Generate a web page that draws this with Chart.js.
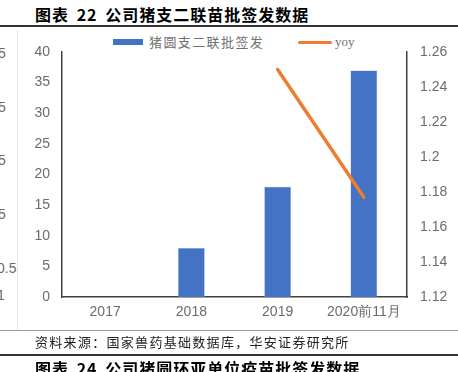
<!DOCTYPE html>
<html><head><meta charset="utf-8">
<script src="https://cdn.jsdelivr.net/npm/chart.js@4"></script>
<style>
html,body{margin:0;padding:0;background:#fff;}
body{width:458px;height:372px;position:relative;overflow:hidden;font-family:"Noto Sans CJK SC",sans-serif;}
.t{position:absolute;white-space:nowrap;}
#title{left:35px;top:3px;font-size:16px;font-weight:bold;color:#000;line-height:22px;letter-spacing:1px;word-spacing:3px;}
#title2{left:35px;top:357px;font-size:16px;font-weight:bold;color:#000;line-height:22px;letter-spacing:1px;word-spacing:3px;}
#src{left:35px;top:333px;font-size:13px;color:#222;line-height:18px;letter-spacing:1.3px;}
.hl{position:absolute;left:0;width:458px;}
.stub{position:absolute;font-family:"Liberation Sans",sans-serif;font-size:14px;color:#6b6b6b;line-height:16px;}
#leg1box{position:absolute;left:113px;top:39px;width:30px;height:6px;background:#4472C4;}
#leg1{left:149px;top:33px;font-size:13px;color:#707070;line-height:18px;letter-spacing:1.4px;}
#leg2line{position:absolute;left:298px;top:41px;width:34px;height:3px;background:#ED7D31;border-radius:2px;}
#leg2{left:335px;top:33px;font-size:13px;color:#707070;line-height:18px;font-family:"Liberation Serif",serif;}
canvas{position:absolute;left:0;top:0;}
</style></head>
<body>
<div id="title" class="t">图表 22 公司猪支二联苗批签发数据</div>
<div class="hl" style="top:25px;height:2px;background:#333;"></div>
<div style="position:absolute;left:17px;top:30px;width:1px;height:300px;background:#e4e4e4;"></div>
<div class="stub" style="left:-2px;top:45px;">5</div>
<div class="stub" style="left:-2px;top:99px;">5</div>
<div class="stub" style="left:-2px;top:152px;">5</div>
<div class="stub" style="left:-2px;top:206px;">5</div>
<div class="stub" style="left:-3px;top:260px;">0.5</div>
<div class="stub" style="left:-3px;top:287px;">1</div>
<div id="leg1box"></div><div id="leg1" class="t">猪圆支二联批签发</div>
<div id="leg2line"></div><div id="leg2" class="t">yoy</div>
<canvas id="c" width="458" height="372"></canvas>
<div class="hl" style="top:330px;height:1px;background:#999;"></div>
<div id="src" class="t">资料来源：国家兽药基础数据库，华安证券研究所</div>
<div class="hl" style="top:354px;height:2px;background:#333;"></div>
<div id="title2" class="t">图表 24 公司猪圆环亚单位疫苗批签发数据</div>
<script>
const categories = ["2017", "2018", "2019", "2020前11月"];
const batchCounts = [0, 8, 18, 37];
const yoyValues = [null, null, 1.25, 1.177];
const leftTicks = [0, 5, 10, 15, 20, 25, 30, 35, 40];
const rightTicks = [1.12, 1.14, 1.16, 1.18, 1.2, 1.22, 1.24, 1.26];

const tickFont = {family: "Liberation Sans", size: 14};
const tickColor = "#6b6b6b";

new Chart(document.getElementById("c"), {
  data: {
    labels: categories,
    datasets: [
      {type: "line", label: "yoy", data: yoyValues, yAxisID: "y1",
       borderColor: "#ED7D31", borderWidth: 3.5, pointRadius: 0, fill: false, order: 0, borderCapStyle: "round"},
      {type: "bar", label: "猪圆支二联批签发", data: batchCounts, yAxisID: "y",
       backgroundColor: "#4472C4", borderColor: "#8EA9DB", borderWidth: 0.5,
       barPercentage: 0.31, categoryPercentage: 1, order: 1}
    ]
  },
  options: {
    responsive: false, animation: false,
    layout: {padding: {top: 52, bottom: 45, left: 0, right: 0}},
    plugins: {legend: {display: false}, tooltip: {enabled: false}},
    scales: {
      x: {
        grid: {display: false, drawTicks: false},
        border: {display: true, color: "#404040", width: 1.5},
        ticks: {font: tickFont, color: tickColor, padding: 7, maxRotation: 0},
        afterFit: s => { s.height = 30; }
      },
      y: {
        position: "left", min: 0, max: 40,
        grid: {display: false, drawTicks: false},
        border: {display: true, color: "#404040", width: 1.5},
        afterBuildTicks: s => { s.ticks = leftTicks.map(v => ({value: v})); },
        ticks: {font: tickFont, color: tickColor, padding: 12},
        afterFit: s => { s.width = 62; }
      },
      y1: {
        position: "right", min: 1.12, max: 1.26,
        grid: {display: false, drawTicks: false},
        border: {display: true, color: "#404040", width: 1.5},
        afterBuildTicks: s => { s.ticks = rightTicks.map(v => ({value: v})); },
        ticks: {font: tickFont, color: tickColor, padding: 13,
          callback: v => String(Number(v.toFixed(2)))},
        afterFit: s => { s.width = 51; }
      }
    }
  }
});
</script>
</body></html>
